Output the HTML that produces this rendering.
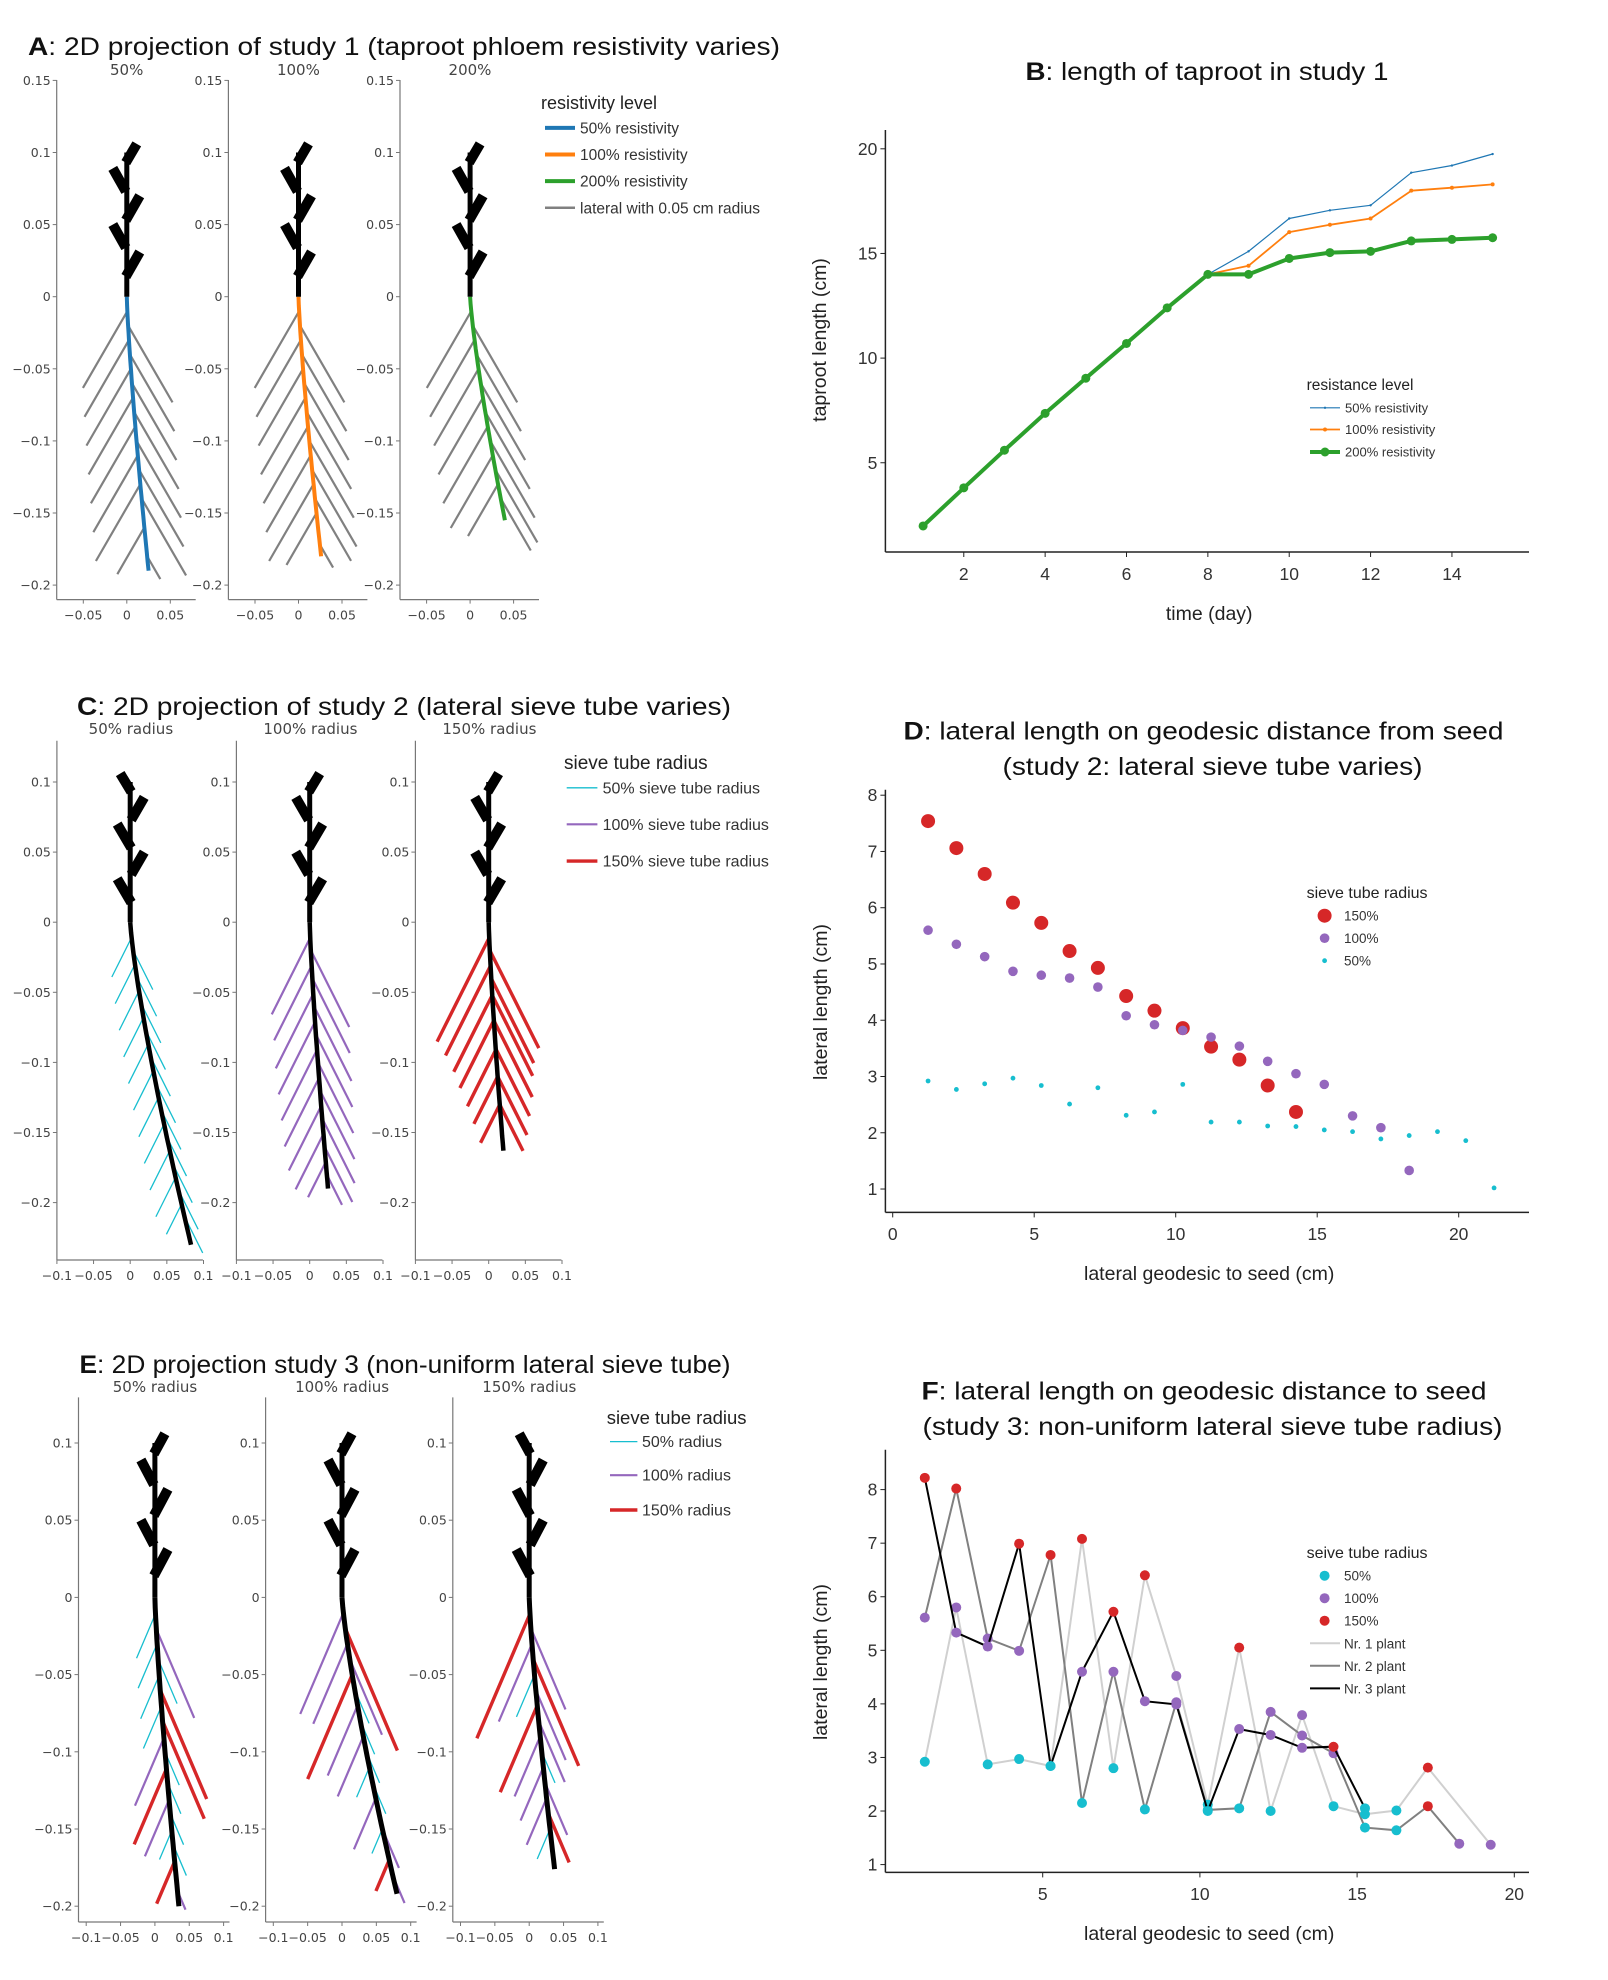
<!DOCTYPE html>
<html>
<head>
<meta charset="utf-8">
<style>
html,body{margin:0;padding:0;background:#fff;}
svg{display:block;font-family:"Liberation Sans",Arial,sans-serif;}
.tk{font-family:"DejaVu Sans",sans-serif;font-size:12.5px;fill:#444;}
.st{font-family:"DejaVu Sans",sans-serif;font-size:15px;fill:#444;}
</style>
</head>
<body>
<svg id="fig" width="1608" height="1980" viewBox="0 0 1608 1980" xmlns="http://www.w3.org/2000/svg"></svg>
<script>
// ---------- Panel B data ----------
const daysB = [1,2,3,4,5,6,7,8,9,10,11,12,13,14,15];
const len50B = [2.0,3.8,5.6,7.36,9.04,10.7,12.4,14.0,15.1,16.67,17.06,17.3,18.86,19.2,19.75];
const len100B = [2.0,3.8,5.6,7.36,9.04,10.7,12.4,14.0,14.41,16.02,16.37,16.67,18.0,18.14,18.3];
const len200B = [1.98,3.8,5.6,7.36,9.04,10.7,12.4,14.0,14.0,14.76,15.04,15.1,15.6,15.67,15.75];
const xTicksB = [2,4,6,8,10,12,14];
const yTicksB = [5,10,15,20];
// ---------- Panel D data ----------
const xD150 = [1.25,2.25,3.25,4.25,5.25,6.25,7.25,8.25,9.25,10.25,11.25,12.25,13.25,14.25];
const yD150 = [7.54,7.06,6.60,6.09,5.73,5.23,4.93,4.43,4.17,3.86,3.53,3.30,2.84,2.37];
const xD100 = [1.25,2.25,3.25,4.25,5.25,6.25,7.25,8.25,9.25,10.25,11.25,12.25,13.25,14.25,15.25,16.25,17.25,18.25];
const yD100 = [5.60,5.35,5.13,4.87,4.80,4.75,4.59,4.08,3.92,3.82,3.70,3.54,3.27,3.05,2.86,2.30,2.09,1.33];
const xD50 = [1.25,2.25,3.25,4.25,5.25,6.25,7.25,8.25,9.25,10.25,11.25,12.25,13.25,14.25,15.25,16.25,17.25,18.25,19.25,20.25,21.25];
const yD50 = [2.92,2.77,2.87,2.97,2.84,2.51,2.80,2.31,2.37,2.86,2.19,2.19,2.12,2.11,2.05,2.02,1.89,1.95,2.02,1.86,1.02];
const xTicksD = [0,5,10,15,20];
const yTicksD = [1,2,3,4,5,6,7,8];
// ---------- Panel F data ----------
const xF1 = [1.25,2.25,3.25,4.25,5.25,6.25,7.25,8.25,9.25,10.25,11.25,12.25,13.25,14.25,15.25,16.25,17.25,19.25];
const yF1 = [2.92,5.80,2.87,2.97,2.84,7.08,2.80,6.40,4.52,2.12,5.05,2.00,3.79,2.09,1.94,2.01,2.81,1.37];
const cF1 = ['c','p','c','c','c','r','c','r','p','c','r','c','p','c','c','c','r','p'];
const xF2 = [1.25,2.25,3.25,4.25,5.25,6.25,7.25,8.25,9.25,10.25,11.25,12.25,13.25,14.25,15.25,16.25,17.25,18.25];
const yF2 = [5.61,8.02,5.22,4.99,6.78,2.15,4.60,2.03,4.03,2.02,2.05,3.85,3.41,3.08,1.69,1.64,2.09,1.39];
const cF2 = ['p','r','p','p','r','c','p','c','p','c','c','p','p','p','c','c','r','p'];
const xF3 = [1.25,2.25,3.25,4.25,5.25,6.25,7.25,8.25,9.25,10.25,11.25,12.25,13.25,14.25,15.25];
const yF3 = [8.22,5.33,5.07,6.99,2.84,4.60,5.72,4.05,3.99,2.00,3.53,3.42,3.18,3.20,2.05];
const cF3 = ['r','p','p','r','c','p','r','p','p','c','p','p','p','r','c'];
const xTicksF = [5,10,15,20];
const yTicksF = [1,2,3,4,5,6,7,8];
// ---------- Root drawings: laterals [side, depth, length, class] ----------
const latA50 = [[-1,0.010,0.074],[-1,0.030,0.074],[-1,0.050,0.074],[-1,0.070,0.074],[-1,0.090,0.074],[-1,0.110,0.074],[-1,0.130,0.074],[-1,0.160,0.045],
  [1,0.020,0.074],[1,0.040,0.074],[1,0.060,0.074],[1,0.080,0.074],[1,0.100,0.074],[1,0.120,0.074],[1,0.140,0.074],[1,0.180,0.022]];
const latA100 = [[-1,0.010,0.074],[-1,0.030,0.074],[-1,0.050,0.074],[-1,0.070,0.074],[-1,0.090,0.074],[-1,0.110,0.074],[-1,0.130,0.074],[-1,0.150,0.050],
  [1,0.020,0.074],[1,0.040,0.074],[1,0.060,0.074],[1,0.080,0.074],[1,0.100,0.074],[1,0.120,0.074],[1,0.140,0.060],[1,0.172,0.022]];
const latA200 = [[-1,0.010,0.074],[-1,0.030,0.074],[-1,0.050,0.074],[-1,0.070,0.074],[-1,0.090,0.074],[-1,0.110,0.070],[-1,0.130,0.050],
  [1,0.020,0.074],[1,0.040,0.074],[1,0.060,0.074],[1,0.080,0.074],[1,0.100,0.074],[1,0.120,0.070],[1,0.140,0.050]];
const latC50 = [[-1,0.011,0.039],[-1,0.030,0.039],[-1,0.049,0.039],[-1,0.068,0.039],[-1,0.087,0.039],[-1,0.106,0.039],[-1,0.125,0.039],[-1,0.144,0.039],[-1,0.163,0.039],[-1,0.182,0.039],[-1,0.201,0.030],
  [1,0.020,0.039],[1,0.039,0.039],[1,0.058,0.039],[1,0.077,0.039],[1,0.096,0.039],[1,0.115,0.039],[1,0.134,0.039],[1,0.153,0.039],[1,0.172,0.039],[1,0.191,0.039],[1,0.210,0.036]];
const latC100 = [[-1,0.011,0.076],[-1,0.031,0.074],[-1,0.051,0.074],[-1,0.071,0.072],[-1,0.091,0.070],[-1,0.111,0.068],[-1,0.131,0.064],[-1,0.151,0.055],[-1,0.171,0.035],
  [1,0.020,0.076],[1,0.040,0.074],[1,0.060,0.074],[1,0.080,0.072],[1,0.100,0.070],[1,0.120,0.068],[1,0.140,0.064],[1,0.160,0.055],[1,0.180,0.030]];
const latC150 = [[-1,0.011,0.103],[-1,0.031,0.089],[-1,0.052,0.076],[-1,0.070,0.067],[-1,0.091,0.056],[-1,0.110,0.047],[-1,0.130,0.038],
  [1,0.020,0.097],[1,0.040,0.084],[1,0.052,0.080],[1,0.070,0.076],[1,0.090,0.067],[1,0.110,0.058],[1,0.130,0.046]];
const latE1 = [[-1,0.0106,0.040,'c'],[-1,0.030,0.040,'c'],[-1,0.0505,0.039,'c'],[-1,0.0705,0.038,'c'],[-1,0.091,0.061,'p'],[-1,0.111,0.068,'r'],[-1,0.131,0.051,'p'],[-1,0.151,0.026,'c'],[-1,0.171,0.038,'r'],
  [1,0.0205,0.080,'p'],[1,0.040,0.040,'c'],[1,0.060,0.098,'r'],[1,0.080,0.088,'r'],[1,0.100,0.030,'c'],[1,0.120,0.028,'c'],[1,0.140,0.028,'c'],[1,0.160,0.028,'c'],[1,0.190,0.017,'p']];
const latE2 = [[-1,0.010,0.091,'p'],[-1,0.030,0.072,'p'],[-1,0.050,0.094,'r'],[-1,0.070,0.063,'p'],[-1,0.090,0.054,'p'],[-1,0.110,0.027,'c'],[-1,0.130,0.046,'p'],[-1,0.150,0.022,'c'],[-1,0.170,0.028,'r'],
  [1,0.020,0.110,'r'],[1,0.040,0.068,'p'],[1,0.060,0.030,'c'],[1,0.080,0.030,'c'],[1,0.100,0.028,'c'],[1,0.120,0.028,'c'],[1,0.150,0.035,'p'],[1,0.180,0.025,'p']];
const latE3 = [[-1,0.0106,0.112,'r'],[-1,0.030,0.070,'p'],[-1,0.050,0.038,'c'],[-1,0.070,0.078,'r'],[-1,0.090,0.054,'p'],[-1,0.110,0.048,'p'],[-1,0.130,0.042,'p'],[-1,0.150,0.027,'c'],
  [1,0.020,0.073,'p'],[1,0.040,0.096,'r'],[1,0.060,0.063,'p'],[1,0.080,0.055,'p'],[1,0.100,0.028,'c'],[1,0.120,0.047,'p'],[1,0.140,0.044,'r']];
// shoot segments [dxStart px, yStart, dxEnd px, yEnd]
const shootSegs = [[-1,0.093,10,0.106],[-1,0.053,13,0.070],[-1,0.014,13,0.031],[-1,0.073,-14,0.089],[-1,0.034,-14,0.050]];

const NS = 'http://www.w3.org/2000/svg';
const svg = document.getElementById('fig');
const COL = {c:'#17becf', p:'#9467bd', r:'#d62728'};
const WID = {c:1.3, p:2.2, r:3.4};

function mk(tag, attrs, parent, name){
  const e = document.createElementNS(NS, tag);
  for (const k in attrs) e.setAttribute(k, attrs[k]);
  
  
  (parent || svg).appendChild(e);
  return e;
}
function group(name){
  const g = document.createElementNS(NS,'g');
  
  
  svg.appendChild(g);
  return g;
}
function txt(x, y, s, size, anchor, fill, parent, name, cls){
  const t = mk('text', {x:x, y:y, 'font-size':size, 'text-anchor':anchor||'start', fill:fill||'#222'}, parent, name);
  if (cls) t.setAttribute('class', cls);
  t.textContent = s;
  return t;
}
function title(x, y, bold, rest, len, parent, name, anchor){
  const t = mk('text', {x:x, y:y, 'font-size':25, fill:'#111', 'text-anchor':anchor||'start'}, parent, name);
  if (len) { t.setAttribute('textLength', len); t.setAttribute('lengthAdjust','spacingAndGlyphs'); }
  if (bold) {
    const b = document.createElementNS(NS,'tspan');
    b.setAttribute('font-weight','bold');
    b.textContent = bold;
    t.appendChild(b);
  }
  t.appendChild(document.createTextNode(rest));
  return t;
}
function fmt(v){
  if (v === 0) return '0';
  let s = String(Math.abs(v));
  return (v < 0 ? '\u2212' : '') + s;
}

// ---------- root subplot ----------
function rootPlot(name, F, tipX, tipD, lats, tapColor, tapW, uniCls, mirror){
  const g = group(name);
  const X = v => F.x0 + v * F.sx;
  const Y = v => F.y0 - v * F.sy;
  mk('line', {x1:F.left, y1:F.top, x2:F.left, y2:F.bottom, stroke:'#777', 'stroke-width':1.2}, g, 'y-axis');
  mk('line', {x1:F.left, y1:F.bottom, x2:F.left+F.w, y2:F.bottom, stroke:'#777', 'stroke-width':1.2}, g, 'x-axis');
  F.yt.forEach(v => {
    mk('line', {x1:F.left-4, y1:Y(v), x2:F.left, y2:Y(v), stroke:'#777', 'stroke-width':1}, g, 'y-tick');
    txt(F.left-6, Y(v)+4.5, fmt(v), 12.5, 'end', '#444', g, 'y-tick-label', 'tk');
  });
  F.xt.forEach(v => {
    mk('line', {x1:X(v), y1:F.bottom, x2:X(v), y2:F.bottom+4, stroke:'#777', 'stroke-width':1}, g, 'x-tick');
    txt(X(v), F.bottom+20, fmt(v), 12.5, 'middle', '#444', g, 'x-tick-label', 'tk');
  });
  txt(F.tx, F.ty, F.title, 15, 'middle', '#444', g, 'subplot-title', 'st');
  const tx = d => tipX * Math.pow(d / tipD, 1.25);
  // laterals
  lats.forEach(L => {
    const side = L[0], d = L[1], len = L[2], cls = L[3] || uniCls;
    const x1 = tx(Math.min(d, tipD)), y1 = -d;
    const x2 = x1 + side * len * 0.69, y2 = y1 - len * 0.72;
    mk('line', {x1:X(x1), y1:Y(y1), x2:X(x2), y2:Y(y2), stroke: cls==='g' ? '#808080' : COL[cls], 'stroke-width': cls==='g' ? 2.2 : WID[cls]}, g, 'lateral-root');
  });
  // taproot
  let pts = [];
  for (let i = 0; i <= 30; i++) { const d = tipD * i / 30; pts.push(X(tx(d)).toFixed(1) + ',' + Y(-d).toFixed(1)); }
  mk('polyline', {points:pts.join(' '), fill:'none', stroke:tapColor, 'stroke-width':tapW}, g, 'taproot');
  // shoot
  mk('line', {x1:X(0), y1:Y(0), x2:X(0), y2:Y(0.1), stroke:'#000', 'stroke-width':5}, g, 'shoot-stem');
  shootSegs.forEach(s => {
    const m = mirror ? -1 : 1;
    mk('line', {x1:X(0)+m*s[0], y1:Y(s[1]), x2:X(0)+m*s[2], y2:Y(s[3]), stroke:'#000', 'stroke-width':10}, g, 'leaf');
  });
}

// ---------- Panel A ----------
title(28, 55, 'A', ': 2D projection of study 1 (taproot phloem resistivity varies)', 752, null, 'panel-a-title');
const ytA = [0.15,0.1,0.05,0,-0.05,-0.1,-0.15,-0.2], xtA = [-0.05,0,0.05];
const aLefts = [56.7, 228.4, 400], aTitles = ['50%','100%','200%'];
const aTips = [[0.025,0.19],[0.026,0.18],[0.04,0.155]];
const aLats = [latA50, latA100, latA200];
const aCols = ['#1f77b4','#ff7f0e','#2ca02c'];
for (let i = 0; i < 3; i++) {
  const F = {left:aLefts[i], top:80, bottom:599.6, w:139, x0:aLefts[i]+70.1, sx:870, y0:296.7, sy:1442, yt:ytA, xt:xtA, title:aTitles[i], tx:aLefts[i]+70, ty:75};
  rootPlot('panel-a-plot-' + aTitles[i], F, aTips[i][0], aTips[i][1], aLats[i], aCols[i], 4, 'g', false);
}
const legA = group('panel-a-legend');
txt(541, 109, 'resistivity level', 18, 'start', '#222', legA, 'legend-title');
const legAItems = [['50% resistivity','#1f77b4',4],['100% resistivity','#ff7f0e',4],['200% resistivity','#2ca02c',4],['lateral with 0.05 cm radius','#808080',2.5]];
const legAY = [127.9,154.5,181.1,207.8];
legAItems.forEach((it, i) => {
  mk('line', {x1:545, y1:legAY[i], x2:575, y2:legAY[i], stroke:it[1], 'stroke-width':it[2]}, legA, 'legend-swatch');
  txt(580, legAY[i]+5.5, it[0], 15.5, 'start', '#333', legA, 'legend-entry');
});

// ---------- Panel C ----------
title(77, 715, 'C', ': 2D projection of study 2 (lateral sieve tube varies)', 654, null, 'panel-c-title');
const ytC = [0.1,0.05,0,-0.05,-0.1,-0.15,-0.2], xtC = [-0.1,-0.05,0,0.05,0.1];
const cLefts = [56.9, 236.4, 415.4], cTitles = ['50% radius','100% radius','150% radius'];
const cTips = [[0.083,0.23],[0.025,0.19],[0.02,0.163]];
const cLats = [latC50, latC100, latC150], cCls = ['c','p','r'];
for (let i = 0; i < 3; i++) {
  const F = {left:cLefts[i], top:740.7, bottom:1260, w:146, x0:cLefts[i]+73.3, sx:733, y0:922.2, sy:1402, yt:ytC, xt:xtC, title:cTitles[i], tx:cLefts[i]+74, ty:734};
  rootPlot('panel-c-plot-' + cCls[i], F, cTips[i][0], cTips[i][1], cLats[i], '#000', 4.5, cCls[i], i === 0);
}
const legC = group('panel-c-legend');
txt(564, 769, 'sieve tube radius', 19, 'start', '#222', legC, 'legend-title');
const legCItems = [['50% sieve tube radius','c'],['100% sieve tube radius','p'],['150% sieve tube radius','r']];
const legCY = [787.8, 824.3, 861.1];
legCItems.forEach((it, i) => {
  mk('line', {x1:566.7, y1:legCY[i], x2:597.4, y2:legCY[i], stroke:COL[it[1]], 'stroke-width':WID[it[1]]}, legC, 'legend-swatch');
  txt(602.6, legCY[i]+5.5, it[0], 16, 'start', '#333', legC, 'legend-entry');
});

// ---------- Panel E ----------
title(79.5, 1373, 'E', ': 2D projection study 3 (non-uniform lateral sieve tube)', 651, null, 'panel-e-title');
const eLefts = [78.5, 265.6, 452.8], eTitles = ['50% radius','100% radius','150% radius'];
const eTips = [[0.035,0.2],[0.08,0.192],[0.037,0.176]];
const eLats = [latE1, latE2, latE3];
for (let i = 0; i < 3; i++) {
  const F = {left:eLefts[i], top:1397.4, bottom:1922, w:151, x0:eLefts[i]+76.4, sx:687, y0:1597.4, sy:1544, yt:ytC, xt:xtC, title:eTitles[i], tx:eLefts[i]+76.5, ty:1392};
  rootPlot('panel-e-plot-' + (i+1), F, eTips[i][0], eTips[i][1], eLats[i], '#000', 5, 'c', i === 2);
}
const legE = group('panel-e-legend');
txt(606.7, 1424, 'sieve tube radius', 18.5, 'start', '#222', legE, 'legend-title');
const legEItems = [['50% radius','c'],['100% radius','p'],['150% radius','r']];
const legEY = [1441.6, 1475.2, 1510];
legEItems.forEach((it, i) => {
  mk('line', {x1:610, y1:legEY[i], x2:637.4, y2:legEY[i], stroke:COL[it[1]], 'stroke-width':WID[it[1]]}, legE, 'legend-swatch');
  txt(642, legEY[i]+5.5, it[0], 16, 'start', '#333', legE, 'legend-entry');
});

// ---------- generic axes for B, D, F ----------
function axes(g, L, T, R, B, xs, ys, xt, yt, xlab, xlabY, ylab, ylabX, ylabY, labBase){
  mk('line', {x1:L, y1:T, x2:L, y2:B, stroke:'#222', 'stroke-width':1.5}, g, 'y-axis');
  mk('line', {x1:L, y1:B, x2:R, y2:B, stroke:'#222', 'stroke-width':1.5}, g, 'x-axis');
  xt.forEach(v => {
    mk('line', {x1:xs(v), y1:B, x2:xs(v), y2:B+5, stroke:'#222', 'stroke-width':1}, g, 'x-tick');
    txt(xs(v), labBase, String(v), 17.5, 'middle', '#333', g, 'x-tick-label');
  });
  yt.forEach(v => {
    mk('line', {x1:L-5, y1:ys(v), x2:L, y2:ys(v), stroke:'#222', 'stroke-width':1}, g, 'y-tick');
    txt(L-8, ys(v)+6, String(v), 17.5, 'end', '#333', g, 'y-tick-label');
  });
  txt((L+R)/2 + 2, xlabY, xlab, 19.5, 'middle', '#222', g, 'x-axis-title');
  const t = txt(ylabX, ylabY, ylab, 19.5, 'middle', '#222', g, 'y-axis-title');
  t.setAttribute('transform', 'rotate(-90 ' + ylabX + ' ' + ylabY + ')');
}

// ---------- Panel B ----------
const gB = group('panel-b');
title(1207, 80, 'B', ': length of taproot in study 1', 363, gB, 'panel-b-title', 'middle');
const xB = d => 923.1 + (d - 1) * 40.68;
const yB = v => 148.8 + (20 - v) * 20.93;
axes(gB, 885.4, 130, 1529, 552, xB, yB, xTicksB, yTicksB, 'time (day)', 620, 'taproot length (cm)', 826, 340, 580);
function series(g, xs, ys, xv, yv, color, w, r, name){
  const pts = xv.map((x, i) => xs(x).toFixed(1) + ',' + ys(yv[i]).toFixed(1)).join(' ');
  mk('polyline', {points:pts, fill:'none', stroke:color, 'stroke-width':w, 'stroke-linejoin':'round'}, g, name + '-line');
  xv.forEach((x, i) => { mk('circle', {cx:xs(x), cy:ys(yv[i]), r:r, fill:color}, g, name + '-point'); });
}
series(gB, xB, yB, daysB, len50B, '#1f77b4', 1.2, 1.2, 'series-50');
series(gB, xB, yB, daysB, len100B, '#ff7f0e', 1.8, 2, 'series-100');
series(gB, xB, yB, daysB, len200B, '#2ca02c', 4, 4.5, 'series-200');
const legB = group('panel-b-legend');
txt(1306.6, 390, 'resistance level', 15.5, 'start', '#222', legB, 'legend-title');
const legBItems = [['50% resistivity','#1f77b4',1.2,1.2],['100% resistivity','#ff7f0e',1.8,2],['200% resistivity','#2ca02c',4,4.5]];
const legBY = [407.8, 429.5, 452];
legBItems.forEach((it, i) => {
  mk('line', {x1:1310, y1:legBY[i], x2:1340, y2:legBY[i], stroke:it[1], 'stroke-width':it[2]}, legB, 'legend-swatch');
  mk('circle', {cx:1325, cy:legBY[i], r:it[3], fill:it[1]}, legB, 'legend-marker');
  txt(1345, legBY[i]+4.5, it[0], 13, 'start', '#333', legB, 'legend-entry');
});

// ---------- Panel D ----------
const gD = group('panel-d');
title(1203.5, 739.4, 'D', ': lateral length on geodesic distance from seed', 600, gD, 'panel-d-title-line1', 'middle');
title(1212.5, 775, '', '(study 2: lateral sieve tube varies)', 420, gD, 'panel-d-title-line2', 'middle');
const xD = v => 892.7 + v * 28.3;
const yD = v => 795.2 + (8 - v) * 56.26;
axes(gD, 885.4, 789.8, 1529, 1212.4, xD, yD, xTicksD, yTicksD, 'lateral geodesic to seed (cm)', 1280, 'lateral length (cm)', 827, 1002, 1240);
xD150.forEach((x, i) => { mk('circle', {cx:xD(x), cy:yD(yD150[i]), r:7, fill:COL.r}, gD, 'point-150'); });
xD100.forEach((x, i) => { mk('circle', {cx:xD(x), cy:yD(yD100[i]), r:4.8, fill:COL.p}, gD, 'point-100'); });
xD50.forEach((x, i) => { mk('circle', {cx:xD(x), cy:yD(yD50[i]), r:2.4, fill:COL.c}, gD, 'point-50'); });
const legD = group('panel-d-legend');
txt(1306.6, 898, 'sieve tube radius', 16, 'start', '#222', legD, 'legend-title');
const legDItems = [['150%','r',7],['100%','p',4.8],['50%','c',2.4]];
const legDY = [915.7, 938.2, 960.7];
legDItems.forEach((it, i) => {
  mk('circle', {cx:1324.6, cy:legDY[i], r:it[2], fill:COL[it[1]]}, legD, 'legend-marker');
  txt(1344, legDY[i]+5, it[0], 13.5, 'start', '#333', legD, 'legend-entry');
});

// ---------- Panel F ----------
const gF = group('panel-f');
title(1204, 1399.4, 'F', ': lateral length on geodesic distance to seed', 565, gF, 'panel-f-title-line1', 'middle');
title(1212.5, 1435, '', '(study 3: non-uniform lateral sieve tube radius)', 580, gF, 'panel-f-title-line2', 'middle');
const xF = v => 885.5 + v * 31.44;
const yF = v => 1489.6 + (8 - v) * 53.57;
axes(gF, 885.4, 1449.8, 1529, 1872.4, xF, yF, xTicksF, yTicksF, 'lateral geodesic to seed (cm)', 1940, 'lateral length (cm)', 827, 1662, 1900);
function plant(xv, yv, cv, color, name){
  const pts = xv.map((x, i) => xF(x).toFixed(1) + ',' + yF(yv[i]).toFixed(1)).join(' ');
  mk('polyline', {points:pts, fill:'none', stroke:color, 'stroke-width':2}, gF, name + '-line');
  return () => xv.forEach((x, i) => { mk('circle', {cx:xF(x), cy:yF(yv[i]), r:5, fill:COL[cv[i]]}, gF, name + '-point'); });
}
const d1 = plant(xF1, yF1, cF1, '#d0d0d0', 'plant-1');
const d2 = plant(xF2, yF2, cF2, '#808080', 'plant-2');
d1(); d2();
const d3 = plant(xF3, yF3, cF3, '#000', 'plant-3');
d3();
const legF = group('panel-f-legend');
txt(1306.6, 1558, 'seive tube radius', 16, 'start', '#222', legF, 'legend-title');
const legFY = [1575.7, 1598.2, 1620.7, 1643.3, 1665.8, 1688.4];
const legFMarks = [['50%','c'],['100%','p'],['150%','r']];
legFMarks.forEach((it, i) => {
  mk('circle', {cx:1324.6, cy:legFY[i], r:5, fill:COL[it[1]]}, legF, 'legend-marker');
  txt(1344, legFY[i]+5, it[0], 13.5, 'start', '#333', legF, 'legend-entry');
});
const legFLines = [['Nr. 1 plant','#d0d0d0'],['Nr. 2 plant','#808080'],['Nr. 3 plant','#000']];
legFLines.forEach((it, i) => {
  mk('line', {x1:1310, y1:legFY[i+3], x2:1340, y2:legFY[i+3], stroke:it[1], 'stroke-width':2}, legF, 'legend-swatch');
  txt(1344, legFY[i+3]+5, it[0], 13.5, 'start', '#333', legF, 'legend-entry');
});
</script>
</body>
</html>
